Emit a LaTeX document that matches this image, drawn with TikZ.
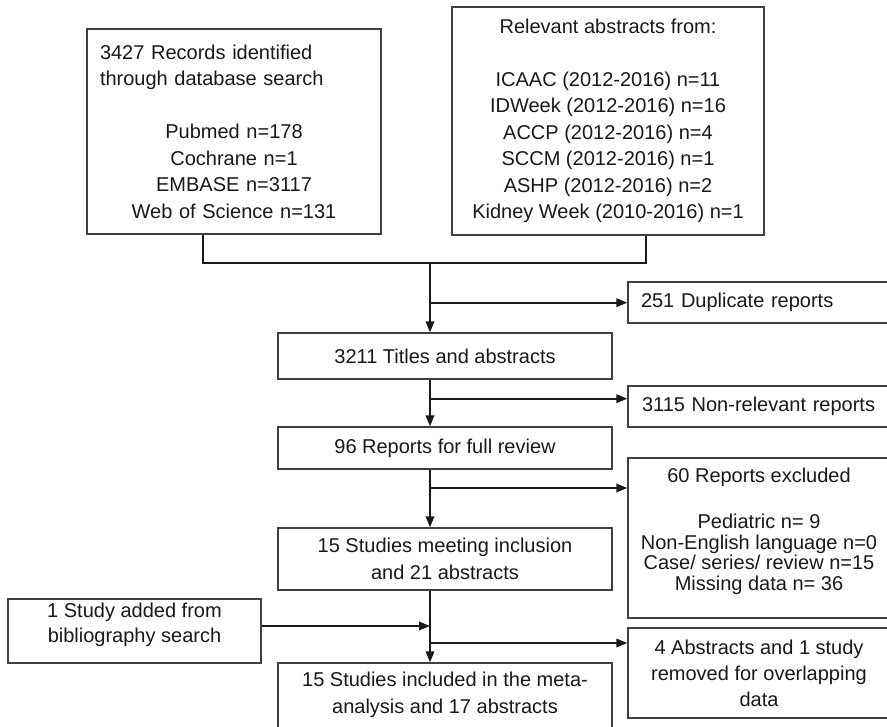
\documentclass[tikz,border=0pt]{standalone}
\usepackage{fontspec}
\setmainfont{Liberation Sans}
\usetikzlibrary{arrows.meta}

\begin{document}
\begin{tikzpicture}
 [x=1pt, y=-1pt,
  box/.style={draw=black!75, line width=1.3pt, fill=white, inner sep=0pt, align=center, text=black!90, font=\fontsize{20}{26.5}\selectfont},
  side box/.style={box, minimum width=262pt},
  flow/.style={-{Triangle[length=11pt,width=8.5pt]}, line width=1.9pt, draw=black!90},
  link/.style={line width=1.9pt, draw=black!90}]

\useasboundingbox (0,0) rectangle (887,727);
\clip (0,0) rectangle (887,727);

% sources
\node[box, minimum width=294pt, minimum height=205pt, align=left, text width=268pt] (rec) at (234,131.5)
  {3427 Records identified\\
   through database search\\[26.5pt]
   \makebox[268pt]{Pubmed n=178}\\
   \makebox[268pt]{Cochrane n=1}\\
   \makebox[268pt]{EMBASE n=3117}\\
   \makebox[268pt]{Web of Science n=131}};
\node[box, minimum width=312pt, minimum height=228pt] (abs) at (608,121)
  {Relevant abstracts from:\\[26.5pt]
   ICAAC (2012-2016) n=11\\
   IDWeek (2012-2016) n=16\\
   ACCP (2012-2016) n=4\\
   SCCM (2012-2016) n=1\\
   ASHP (2012-2016) n=2\\
   Kidney Week (2010-2016) n=1};

% main column
\node[box, minimum width=334pt, minimum height=46pt] (tit) at (445,356) {3211 Titles and abstracts};
\node[box, minimum width=334pt, minimum height=42pt] (full) at (445,448) {96 Reports for full review};
\node[box, minimum width=334pt, minimum height=62pt] (stud) at (445,559)
  {15 Studies meeting inclusion\\ and 21 abstracts};
\node[box, minimum width=334pt, minimum height=80pt] (fin) at (445,703)
  {15 Studies included in the meta-\\ analysis and 17 abstracts\\[-6.5pt]\mbox{}};

% side boxes
\node[side box, minimum height=41pt, align=left, text width=236pt] (dup) at (759,302.5) {251 Duplicate reports};
\node[side box, minimum height=41pt, align=left, text width=234pt] (non) at (759,406.5) {3115 Non-relevant reports};
\node[side box, minimum height=160pt, font=\fontsize{20}{20.5}\selectfont] (exc) at (759,538)
  {60 Reports excluded\\[26pt]
   Pediatric n= 9\\
   Non-English language n=0\\
   Case/ series/ review n=15\\
   Missing data n= 36\\[-2.5pt]\mbox{}};
\node[side box, minimum height=90pt, font=\fontsize{20}{26}\selectfont] (ovl) at (759,673)
  {4 Abstracts and 1 study\\ removed for overlapping\\ data};
\node[box, minimum width=253pt, minimum height=64pt, font=\fontsize{20}{25}\selectfont] (bib) at (134.5,631)
  {1 Study added from\\ bibliography search\\[-8pt]\mbox{}};

% junctions
\coordinate (j0) at (430,263);
\coordinate (j1) at (430,302.7);
\coordinate (j2) at (430,398.7);
\coordinate (j3) at (430,488);
\coordinate (j4) at (430,626);
\coordinate (j5) at (430,643);

\draw[link] ([xshift=-31pt]rec.south) |- (j0);
\draw[link] ([xshift=38pt]abs.south) |- (j0);
\draw[flow] (j0) -- (j0 |- tit.north);
\draw[flow] (j1) -- (j1 -| dup.west);
\draw[flow] (tit.south -| j0) -- (full.north -| j0);
\draw[flow] (j2) -- (j2 -| non.west);
\draw[flow] (full.south -| j0) -- (stud.north -| j0);
\draw[flow] (j3) -- (j3 -| exc.west);
\draw[flow] (j4 -| bib.east) -- (j4);
\draw[flow] (stud.south -| j0) -- (fin.north -| j0);
\draw[flow] (j5) -- (j5 -| ovl.west);

\end{tikzpicture}
\end{document}
